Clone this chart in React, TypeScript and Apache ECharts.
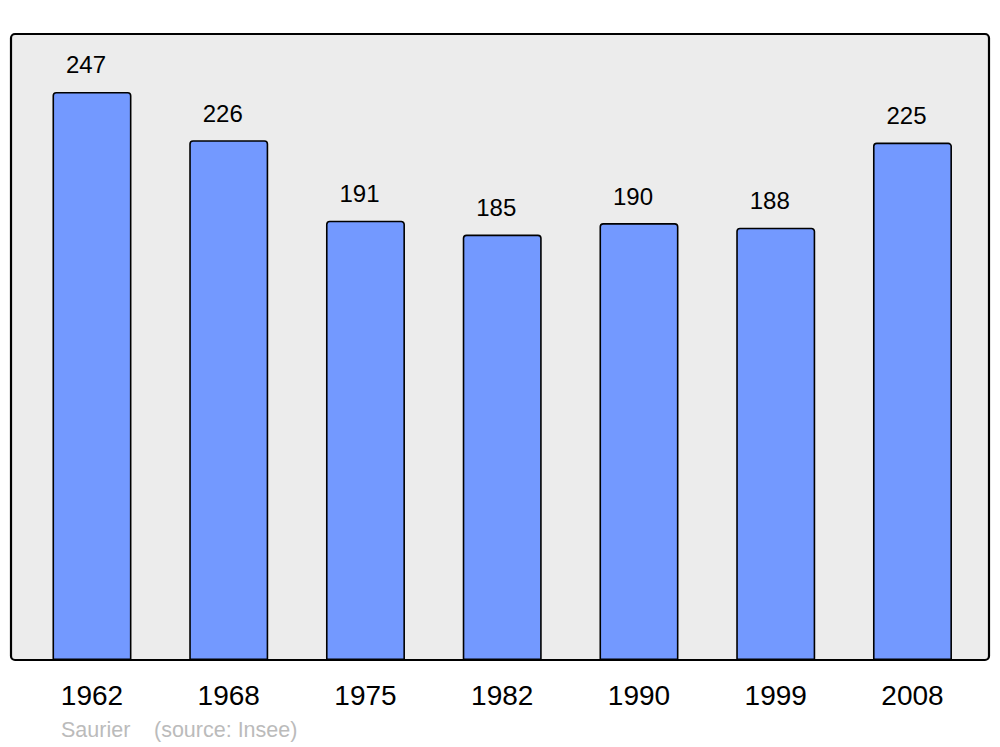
import React, { useEffect, useRef } from "react";
import * as echarts from "echarts";

const years = ["1962", "1968", "1975", "1982", "1990", "1999", "2008"];
const population = [247, 226, 191, 185, 190, 188, 225];
const footerAuthor = "Saurier";
const footerSource = "(source: Insee)";

export default function App() {
  const ref = useRef<HTMLDivElement>(null);
  useEffect(() => {
    if (!ref.current) return;
    const chart = echarts.init(ref.current, null, { renderer: "svg" });
    chart.setOption({
      animation: false,
      backgroundColor: "#ffffff",
      textStyle: { fontFamily: "Liberation Sans" },
      grid: { left: 23.6, width: 957.25, top: 34, height: 626 },
      xAxis: {
        type: "category",
        data: years,
        axisLine: { show: false },
        axisTick: { show: false },
        axisLabel: { fontSize: 28, color: "#000", margin: 21, fontFamily: "Liberation Sans" },
      },
      yAxis: {
        type: "value",
        min: 0,
        max: 272.2,
        show: false,
        splitLine: { show: false },
      },
      graphic: [
        {
          type: "rect",
          z: -10,
          shape: { x: 11, y: 34, width: 978, height: 626, r: 4 },
          style: { fill: "#ececec", stroke: "#000", lineWidth: 2.2 },
        },
        {
          type: "text",
          x: 61,
          y: 730,
          style: {
            text: footerAuthor,
            fontSize: 21.5,
            fill: "#bbbbbb",
            fontFamily: "Liberation Sans",
            verticalAlign: "middle",
          },
        },
        {
          type: "text",
          x: 154,
          y: 730,
          style: {
            text: footerSource,
            fontSize: 21.5,
            fill: "#bbbbbb",
            fontFamily: "Liberation Sans",
            verticalAlign: "middle",
          },
        },
      ],
      series: [
        {
          type: "bar",
          data: population,
          barWidth: 79,
          z: 5,
          itemStyle: {
            color: "#7399ff",
            borderColor: "#000",
            borderWidth: 1.6,
            borderRadius: [3, 3, 0, 0],
          },
          label: {
            show: true,
            position: "top",
            distance: 15,
            offset: [-6, 0],
            fontSize: 24,
            color: "#000",
            fontFamily: "Liberation Sans",
          },
        },
      ],
    });
    return () => chart.dispose();
  }, []);
  return (
    <div
      ref={ref}
      style={{ position: "fixed", left: 0, top: 0, width: 1000, height: 747 }}
    />
  );
}
